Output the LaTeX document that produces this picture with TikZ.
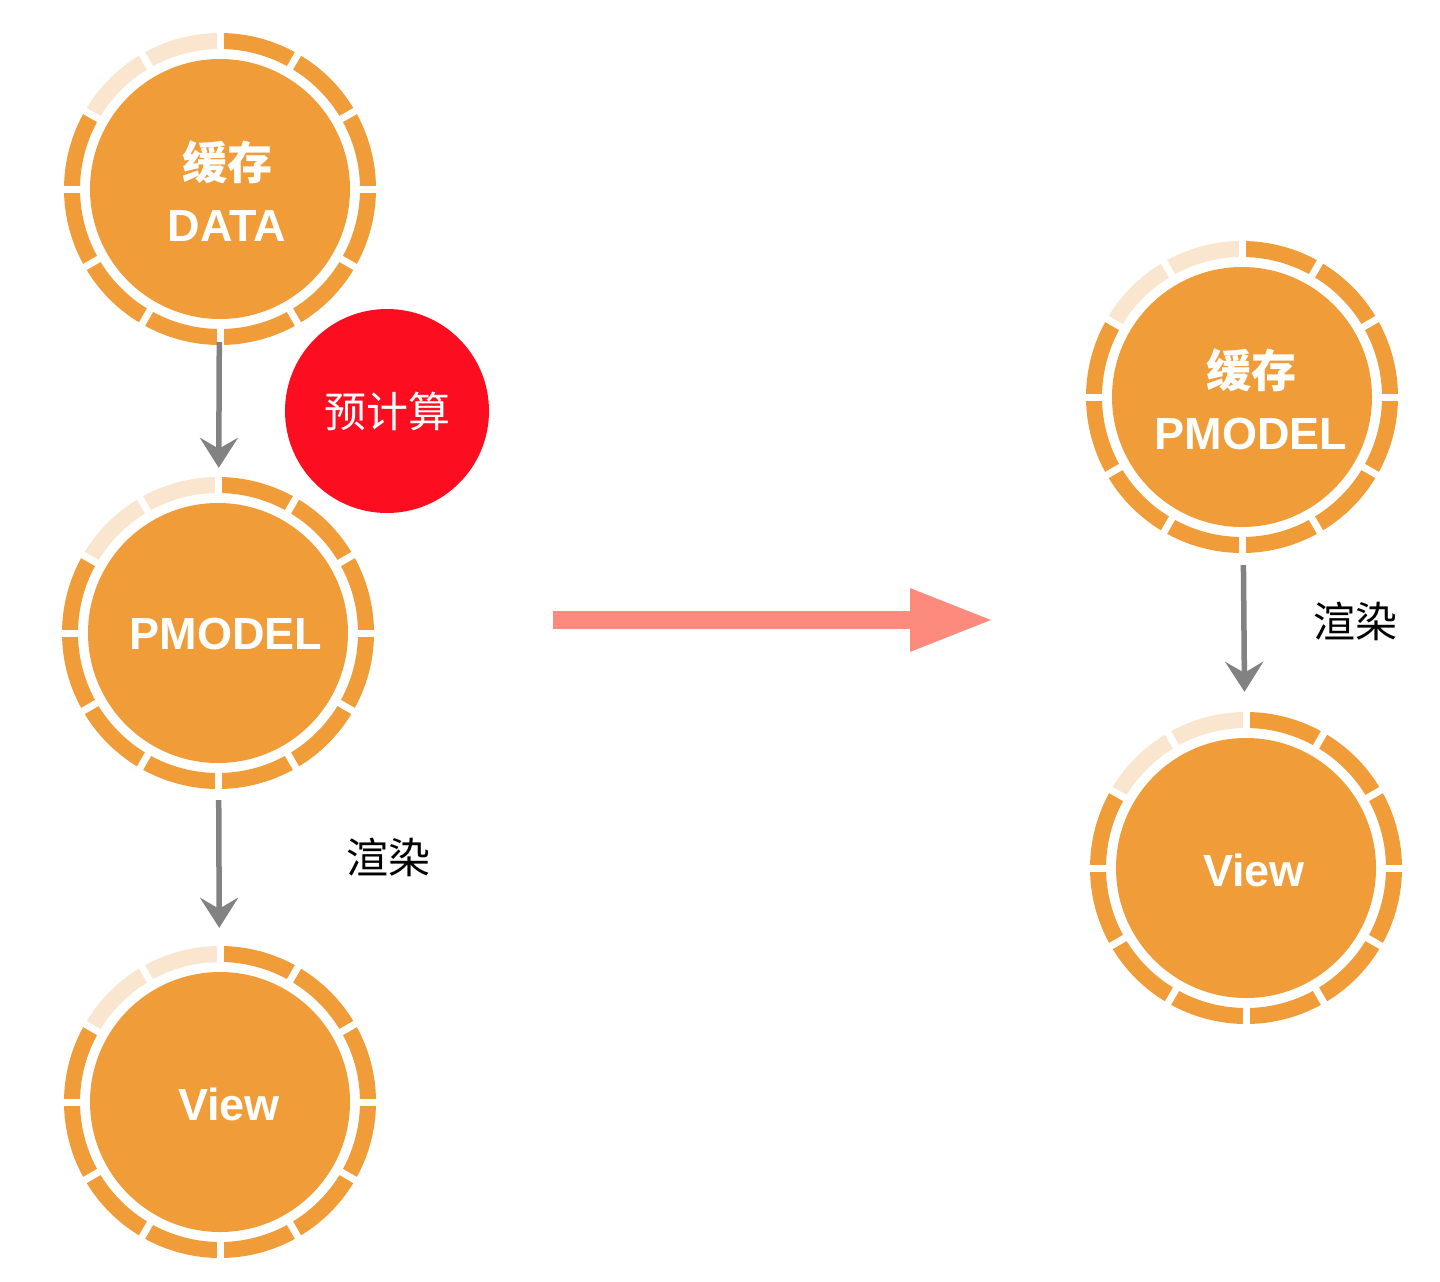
\documentclass[tikz,border=0pt]{standalone}
\usepackage{fontspec}
\setmainfont{Liberation Sans}
\newfontfamily\cjk{Noto Sans CJK SC}
\usetikzlibrary{arrows.meta}
\definecolor{ora}{HTML}{EF9C39}
\definecolor{pale}{HTML}{FAE6CF}
\definecolor{redc}{HTML}{FC0D1F}
\definecolor{salmon}{HTML}{FC8B7E}
\definecolor{grayc}{HTML}{828282}
\newcommand\ringdeco[1]{%
  \foreach \a in {0,30,60,90,120,150,180,270,300,330}{%
    \draw[ora, line width=16pt] (#1.center) ++(\a:148) arc[start angle=\a, end angle=\a+30, radius=148];}%
  \foreach \a in {210,240}{%
    \draw[pale, line width=16pt] (#1.center) ++(\a:148) arc[start angle=\a, end angle=\a+30, radius=148];}%
  \foreach \a in {0,30,...,330}{%
    \draw[white, line width=7pt] (#1.center) ++(\a:136) -- ++(\a:26);}%
}
\begin{document}
\begin{tikzpicture}[x=1pt,y=-1pt,
  disc/.style={circle, fill=ora, minimum size=260pt, inner sep=0pt},
  dtext/.style={text=white, align=center, font=\fontsize{45}{62}\selectfont\bfseries},
  garrow/.style={draw=grayc, line width=5.5pt, -{Stealth[length=30pt, width=38pt, inset=11pt]}},
  lbl/.style={font=\cjk\fontsize{42}{50}\selectfont, text=black}]
\useasboundingbox[fill=white] (0,0) rectangle (1440,1282);
% left column
\node[disc] (data) at (220,189) {};
\ringdeco{data}
\node[dtext] (dataT) at (227,191) {{\cjk\bfseries 缓存}\\DATA};
\node[disc] (pmodel) at (218,633) {};
\ringdeco{pmodel}
\node[dtext] (pmodelT) at (226,634) {PMODEL};
\node[disc] (view) at (220,1102) {};
\ringdeco{view}
\node[dtext] (viewT) at (229,1104) {View};
% red circle
\node[circle, fill=redc, minimum size=204pt, inner sep=0pt, text=white,
      font=\cjk\fontsize{42}{50}\selectfont] (pre) at (387,411) {预计算};
% left arrows
\draw[garrow, shorten <=23pt, shorten >=35pt] (data) -- (pmodel);
\draw[garrow, shorten <=37pt, shorten >=44pt] (pmodel) -- (view);
\node[lbl] (render1) at (388,857) {渲染};
% big arrow
\coordinate (bigS) at (553,620);
\coordinate (bigE) at (994,620);
\draw[salmon, line width=18pt, -{Triangle[length=84pt, width=58pt]}] (bigS) -- (bigE);
% right column
\node[disc] (cpm) at (1242,397) {};
\ringdeco{cpm}
\node[dtext] (cpmT) at (1251,399) {{\cjk\bfseries 缓存}\\PMODEL};
\node[disc] (rview) at (1246,868) {};
\ringdeco{rview}
\node[dtext] (rviewT) at (1254,870) {View};
\draw[garrow, shorten <=38pt, shorten >=46pt] (cpm) -- (rview);
\node[lbl] (render2) at (1355,621) {渲染};
\end{tikzpicture}
\end{document}
